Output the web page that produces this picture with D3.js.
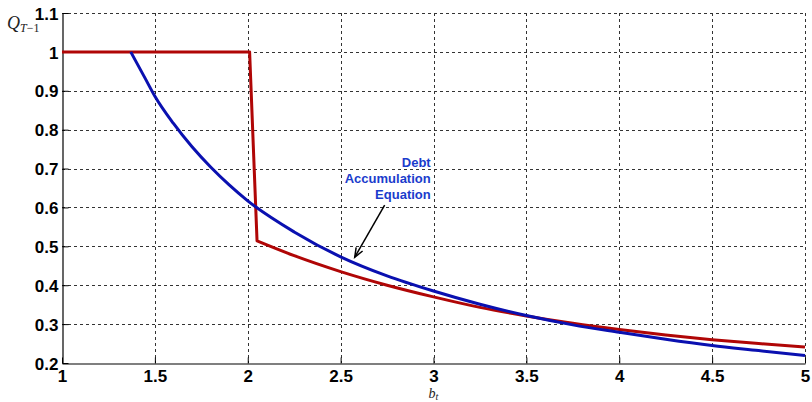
<!DOCTYPE html>
<html>
<head>
<meta charset="utf-8">
<script src="https://cdn.jsdelivr.net/npm/d3@7/dist/d3.min.js"></script>
<style>
  html, body { margin: 0; padding: 0; background: #fff; }
  svg { display: block; }
</style>
</head>
<body>
<svg id="chart" width="812" height="402"></svg>
<script>
// Tick values for both axes
const xTicks = [1, 1.5, 2, 2.5, 3, 3.5, 4, 4.5, 5];
const yTicks = [0.2, 0.3, 0.4, 0.5, 0.6, 0.7, 0.8, 0.9, 1, 1.1];

// Debt accumulation equation (blue)
const accumB = [1.37, 1.45, 1.5, 1.6, 1.7, 1.8, 1.9, 2.0, 2.25, 2.5, 2.75, 3.0, 3.25, 3.5, 3.75, 4.0, 4.25, 4.5, 4.75, 5.0];
const accumQ = [1.0, 0.93, 0.886, 0.816, 0.756, 0.704, 0.658, 0.617, 0.537, 0.473, 0.424, 0.385, 0.351, 0.322, 0.298, 0.279, 0.261, 0.245, 0.232, 0.219];

// Price schedule (red): flat part, drop, then decaying tail
const schedB = [1.0, 2.01, 2.05, 2.25, 2.5, 2.75, 3.0, 3.25, 3.5, 3.75, 4.0, 4.25, 4.5, 4.75, 5.0];
const schedQ = [1.0, 1.0, 0.514, 0.476, 0.435, 0.400, 0.370, 0.343, 0.321, 0.302, 0.286, 0.272, 0.260, 0.250, 0.241];

// Annotation text and arrow (data units)
const noteLines = ["Debt", "Accumulation", "Equation"];
const noteAnchor = [2.985, 0.705];
const arrowFrom = [2.737, 0.606];
const arrowTo = [2.576, 0.472];

const svg = d3.select("#chart");
const margin = { left: 62, right: 7, top: 13, bottom: 39 };
const W = 812, H = 402;

const x = d3.scaleLinear().domain([1, 5]).range([margin.left, W - margin.right]);
const y = d3.scaleLinear().domain([0.2, 1.1]).range([H - margin.bottom, margin.top]);

const grid = svg.append("g");
// horizontal grid lines
grid.selectAll("line.h").data(yTicks.filter(v => v > 0.2)).join("line")
  .attr("x1", x(1)).attr("x2", x(5))
  .attr("y1", d => Math.round(y(d)) + 0.5).attr("y2", d => Math.round(y(d)) + 0.5)
  .attr("stroke", "#333").attr("stroke-width", 1).attr("stroke-dasharray", "3,3");
// vertical grid lines
grid.selectAll("line.v").data(xTicks.filter(v => v > 1)).join("line")
  .attr("y1", y(1.1)).attr("y2", y(0.2))
  .attr("x1", d => Math.round(x(d)) + 0.5).attr("x2", d => Math.round(x(d)) + 0.5)
  .attr("stroke", "#333").attr("stroke-width", 1).attr("stroke-dasharray", "3,3");

// axes with inward ticks
const fmt = d => d3.format("")(d);
const xAxis = d3.axisBottom(x).tickValues(xTicks).tickSizeInner(-6).tickSizeOuter(0).tickPadding(10).tickFormat(fmt);
const yAxis = d3.axisLeft(y).tickValues(yTicks).tickSizeInner(-6).tickSizeOuter(0).tickPadding(10).tickFormat(fmt);

const gx = svg.append("g").attr("transform", `translate(0,${Math.round(y(0.2)) + 0.5})`).call(xAxis);
const gy = svg.append("g").attr("transform", `translate(${Math.round(x(1)) + 0.5},0)`).call(yAxis);
[gx, gy].forEach(g => {
  g.select(".domain").attr("stroke", "#000").attr("stroke-width", 1.2);
  g.selectAll(".tick line").attr("stroke", "#000");
  g.selectAll(".tick text")
    .attr("font-family", "Liberation Sans, Arial, sans-serif")
    .attr("font-weight", "bold").attr("font-size", 17).attr("fill", "#000");
});
gx.selectAll(".tick text").attr("dy", "0.72em").attr("y", 6);
gy.selectAll(".tick text").attr("x", -4).attr("dy", "0.36em");

// curves
const smooth = d3.line().x(d => x(d[0])).y(d => y(d[1])).curve(d3.curveMonotoneX);
const straight = d3.line().x(d => x(d[0])).y(d => y(d[1]));
const sched = schedB.map((b, i) => [b, schedQ[i]]);
// flat part and drop are straight segments, the tail is smooth
const schedPath = straight(sched.slice(0, 3)) + smooth(sched.slice(2)).replace(/^M/, "L");
svg.append("path").attr("d", schedPath)
  .attr("fill", "none").attr("stroke", "#b00606").attr("stroke-width", 3)
  .attr("stroke-linejoin", "round");
svg.append("path").datum(accumB.map((b, i) => [b, accumQ[i]]))
  .attr("d", smooth).attr("fill", "none").attr("stroke", "#0a10b0").attr("stroke-width", 3)
  .attr("stroke-linejoin", "round");

// annotation text
const note = svg.append("text")
  .attr("font-family", "Liberation Sans, Arial, sans-serif")
  .attr("font-weight", "bold").attr("font-size", 13).attr("fill", "#1a3ccc")
  .attr("text-anchor", "end");
noteLines.forEach((t, i) => {
  note.append("tspan").attr("x", x(noteAnchor[0])).attr("y", y(noteAnchor[1]) + i * 16).text(t);
});

// annotation arrow
const ax0 = x(arrowFrom[0]), ay0 = y(arrowFrom[1]);
const ax1 = x(arrowTo[0]), ay1 = y(arrowTo[1]);
const ang = Math.atan2(ay1 - ay0, ax1 - ax0);
const head = 10, spread = 0.38;
svg.append("line").attr("x1", ax0).attr("y1", ay0).attr("x2", ax1).attr("y2", ay1)
  .attr("stroke", "#000").attr("stroke-width", 1.5);
svg.append("path")
  .attr("d", `M${ax1 - head * Math.cos(ang - spread)},${ay1 - head * Math.sin(ang - spread)}` +
             `L${ax1},${ay1}` +
             `L${ax1 - head * Math.cos(ang + spread)},${ay1 - head * Math.sin(ang + spread)}`)
  .attr("fill", "none").attr("stroke", "#000").attr("stroke-width", 1.5);

// axis titles
const xt = svg.append("text")
  .attr("x", x(3) - 5).attr("y", 398)
  .attr("font-family", "Liberation Serif, Times New Roman, serif").attr("font-style", "italic")
  .attr("font-size", 14).attr("fill", "#222");
xt.append("tspan").text("b");
xt.append("tspan").attr("font-size", 10).attr("dy", 2).text("t");

const yt = svg.append("text")
  .attr("x", 7).attr("y", 29)
  .attr("font-family", "Liberation Serif, Times New Roman, serif").attr("font-style", "italic")
  .attr("font-size", 18).attr("fill", "#222");
yt.append("tspan").text("Q");
yt.append("tspan").attr("font-size", 12).attr("dy", 3).text("T");
yt.append("tspan").attr("font-size", 12).attr("font-style", "normal").text("\u22121");
</script>
</body>
</html>
